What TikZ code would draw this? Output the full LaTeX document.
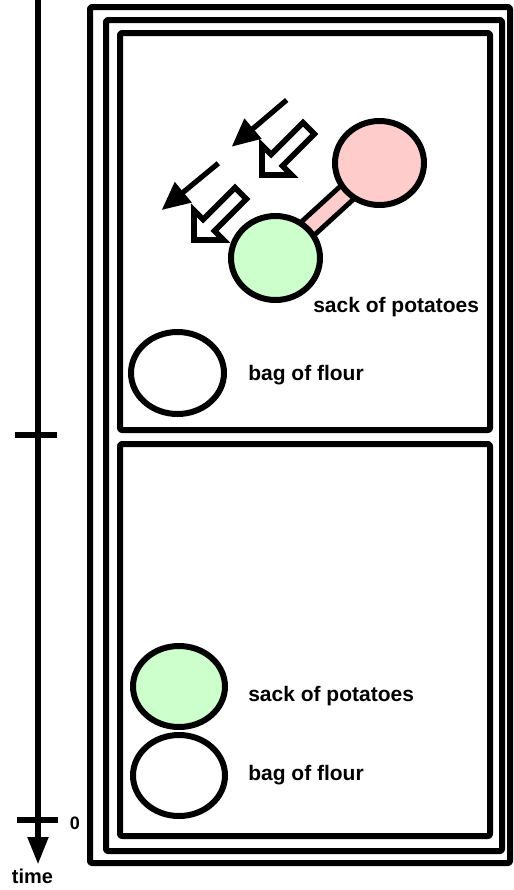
\documentclass[tikz,border=0pt]{standalone}
\usepackage{fontspec}
\setmainfont{Liberation Sans}
\usetikzlibrary{shapes.geometric,arrows.meta,backgrounds}
\definecolor{pinkf}{RGB}{255,204,204}
\definecolor{greenf}{RGB}{204,255,204}
\begin{document}
\begin{tikzpicture}[x=0.75pt,y=-0.75pt,
  frame/.style={draw=black,line width=4.5pt,line join=round,rounded corners=1.5pt},
  blob/.style={ellipse,draw=black,line width=4.5pt,inner sep=0pt},
  lbl/.style={font=\fontsize{15.75}{18}\selectfont\bfseries,inner sep=0pt,anchor=base west},
  movearrow/.style={draw=black,line width=3.9pt,-{Triangle[length=21pt,width=19pt]}},
  blockarrow/.style={draw=black,fill=white,line width=4.2pt,line join=miter},
]
\useasboundingbox (0,0) rectangle (514,890);
\begin{scope}[on background layer]
  \fill[white] (0,0) rectangle (514,890);
\end{scope}

% frames
\draw[frame] (90,7) rectangle (510,863);
\draw[frame] (106,20) rectangle (502,851);
\draw[frame] (120,33) rectangle (490,430);
\draw[frame] (120,444) rectangle (490,836);

% time axis
\coordinate (axtop) at (38,0);
\coordinate (axtip) at (38,865);
\draw[line width=5pt,-{Triangle[length=21pt,width=14.5pt]}] (axtop) -- (axtip);
\coordinate (t1a) at (15,435); \coordinate (t1b) at (57,435);
\coordinate (t0a) at (17,820); \coordinate (t0b) at (58,820);
\draw[line width=4.5pt] (t1a) -- (t1b);
\draw[line width=4.5pt] (t0a) -- (t0b);
\node[font=\fontsize{13.5}{16}\selectfont\bfseries,inner sep=0pt,anchor=base] (zero) at (75,829) {0};
\node[font=\fontsize{15}{18}\selectfont\bfseries,inner sep=0pt,anchor=base] (time) at (32.5,883) {time};

% top panel: moving dumbbell
\node[blob,fill=pinkf,minimum width=66.75pt,minimum height=63pt] (pk) at (379.5,163) {};
\node[blob,fill=greenf,minimum width=66.75pt,minimum height=63pt] (gt) at (275.5,258) {};
\begin{scope}[on background layer]
  \draw[line width=17.5pt,black] (gt.center) -- (pk.center);
  \draw[line width=10pt,pinkf] (gt.center) -- (pk.center);
\end{scope}
\node[lbl] (sp1) at (313,312) {sack of potatoes};

% motion arrows
\coordinate (m1a) at (286.7,100); \coordinate (m1b) at (231.7,146.7);
\coordinate (m2a) at (218.3,163.3); \coordinate (m2b) at (161.7,210);
\draw[movearrow] (m1a) -- (m1b);
\draw[movearrow] (m2a) -- (m2b);
\coordinate (ba1) at (262,175);
\coordinate (ba2) at (194,240);
\foreach \c in {ba1,ba2}{
  \begin{scope}[shift={(\c)},rotate=225]
    \draw[blockarrow] (0,0) -- (-21,21) -- (-21,8) -- (-66,8)
      -- (-66,-8) -- (-21,-8) -- (-21,-21) -- cycle;
  \end{scope}
}

\node[blob,fill=white,minimum width=69.75pt,minimum height=61.5pt] (wt) at (177.5,373) {};
\node[lbl] (bf1) at (248,380) {bag of flour};

% bottom panel
\node[blob,fill=greenf,minimum width=69pt,minimum height=60.75pt] (gb) at (179,686.5) {};
\node[blob,fill=white,minimum width=69pt,minimum height=60.75pt] (wb) at (179,775.5) {};
\node[lbl] (sp2) at (248,701) {sack of potatoes};
\node[lbl] (bf2) at (248,780) {bag of flour};
\end{tikzpicture}
\end{document}
